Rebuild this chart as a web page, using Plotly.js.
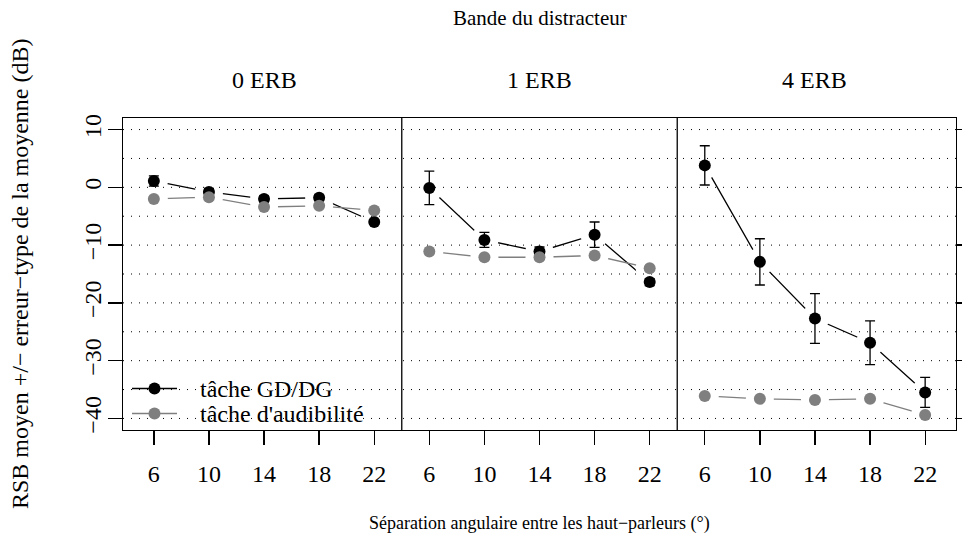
<!DOCTYPE html>
<html>
<head>
<meta charset="utf-8">
<script src="https://cdn.plot.ly/plotly-3.0.1.min.js"></script>
<style>html,body{margin:0;padding:0;background:#fff;}#chart{width:962px;height:548px;}</style>
</head>
<body>
<div id="chart"></div>
<script>
// ---- data ----
const SEPARATIONS = [6, 10, 14, 18, 22];
const BANDS = ['0 ERB', '1 ERB', '4 ERB'];
const GDDG_0 = [1.1, -0.8, -2.0, -1.8, -6.0];
const GDDG_1 = [-0.1, -9.1, -11.1, -8.2, -16.4];
const GDDG_4 = [3.8, -12.9, -22.7, -26.9, -35.5];
const GDDG_ERR_0 = [0.9, 0.6, 0.5, 0.5, 0.4];
const GDDG_ERR_1 = [2.9, 1.3, 0.8, 2.2, 0.6];
const GDDG_ERR_4 = [3.4, 4.0, 4.3, 3.8, 2.6];
const AUDIB_0 = [-2.0, -1.7, -3.4, -3.2, -4.0];
const AUDIB_1 = [-11.1, -12.1, -12.1, -11.8, -14.0];
const AUDIB_4 = [-36.1, -36.6, -36.8, -36.6, -39.4];
const Y_TICKS = [10, 0, -10, -20, -30, -40];
const Y_TICK_TEXT = ['10', '0', '\u221210', '\u221220', '\u221230', '\u221240'];
const GRID_Y = [10, 5, 0, -5, -10, -15, -20, -25, -30, -35, -40];
const SERIES_NAMES = ['tâche GD/DG', "tâche d'audibilité"];

// ---- layout constants ----
const FONT = 'Liberation Serif';
const FS = 24;
const BLACK = '#000000';
const GREY = '#7f7f7f';
const COLORS = [BLACK, GREY];
const XR = [0.44, 15.56];
const YR = [-42, 12];
const M = {l: 123, r: 6, t: 118, b: 118};
const W = 962, H = 548;
const PW = W - M.l - M.r, PH = H - M.t - M.b;
const px2x = p => (p - M.l) / PW;
const px2y = p => (H - M.b - p) / PH;

const gddg = [GDDG_0, GDDG_1, GDDG_4];
const gddgErr = [GDDG_ERR_0, GDDG_ERR_1, GDDG_ERR_4];
const audib = [AUDIB_0, AUDIB_1, AUDIB_4];

// positions on the shared axis: one block of separations per band
function flatten(series) {
  const xs = [], ys = [];
  series.forEach((vals, b) => {
    vals.forEach((v, i) => { xs.push(b * SEPARATIONS.length + i + 1); ys.push(v); });
    if (b < series.length - 1) { xs.push(null); ys.push(null); }
  });
  return {x: xs, y: ys};
}
const G = flatten(gddg), GE = flatten(gddgErr), A = flatten(audib);

const tickvals = [], ticktext = [];
BANDS.forEach((_, b) => SEPARATIONS.forEach((s, i) => { tickvals.push(b * SEPARATIONS.length + i + 1); ticktext.push(String(s)); }));

const gridX = [], gridY = [];
GRID_Y.forEach(g => { gridX.push(XR[0], XR[1], null); gridY.push(g, g, null); });

const MS = 12;
const traces = [
  {x: G.x, y: G.y, mode: 'lines', name: SERIES_NAMES[0], connectgaps: false, showlegend: false,
   line: {color: BLACK, width: 1.3}, hoverinfo: 'skip'},
  {x: A.x, y: A.y, mode: 'lines', name: SERIES_NAMES[1], connectgaps: false, showlegend: false,
   line: {color: GREY, width: 1.3}, hoverinfo: 'skip'},
  // white discs: the gaps that the "b" plot type leaves around each point
  {x: G.x.concat(A.x), y: G.y.concat(A.y), mode: 'markers', showlegend: false,
   marker: {color: '#ffffff', size: 28, line: {width: 0}}, hoverinfo: 'skip'},
  // dotted horizontal grid
  {x: gridX, y: gridY, mode: 'lines', showlegend: false,
   line: {color: BLACK, width: 1, dash: '1px,7px'}, hoverinfo: 'skip'},
  {x: G.x, y: G.y, mode: 'markers', name: SERIES_NAMES[0], showlegend: false,
   marker: {color: BLACK, size: MS},
   error_y: {type: 'data', array: GE.y, color: BLACK, thickness: 1.3, width: 5}},
  {x: A.x, y: A.y, mode: 'markers', name: SERIES_NAMES[1], showlegend: false,
   marker: {color: GREY, size: MS}}
];

const tf = {family: FONT, size: FS, color: BLACK};
const annotations = [
  {text: 'Bande du distracteur', x: (XR[0] + XR[1]) / 2, xref: 'x', y: px2y(18), yref: 'paper',
   showarrow: false, font: {family: FONT, size: 21, color: BLACK}, xanchor: 'center', yanchor: 'middle'},
  {text: 'Séparation angulaire entre les haut\u2212parleurs (°)', x: (XR[0] + XR[1]) / 2, xref: 'x', y: px2y(523), yref: 'paper',
   showarrow: false, font: {family: FONT, size: 18, color: BLACK}, xanchor: 'center', yanchor: 'middle'},
  {text: 'RSB moyen +/\u2212 erreur\u2212type de la moyenne (dB)', x: px2x(20), xref: 'paper', y: 0.5, yref: 'paper',
   textangle: -90, showarrow: false, font: tf, xanchor: 'center', yanchor: 'middle'}
];
BANDS.forEach((b, i) => annotations.push({
  text: b, x: i * SEPARATIONS.length + (SEPARATIONS.length + 1) / 2, xref: 'x', y: px2y(80), yref: 'paper',
  showarrow: false, font: tf, xanchor: 'center', yanchor: 'middle'}));

const shapes = [];
for (let b = 1; b < BANDS.length; b++) {
  shapes.push({type: 'line', xref: 'x', yref: 'paper', x0: b * SEPARATIONS.length + 0.5, x1: b * SEPARATIONS.length + 0.5,
    y0: 0, y1: 1, layer: 'above', line: {color: BLACK, width: 1.3}});
}

// legend (R style, no box): key line with point, then label
const LEG_ROWS = [388.5, 413.5];
SERIES_NAMES.forEach((name, k) => {
  const yy = px2y(LEG_ROWS[k]);
  shapes.push({type: 'line', xref: 'paper', yref: 'paper', x0: px2x(132), x1: px2x(177), y0: yy, y1: yy,
    line: {color: COLORS[k], width: 1.3}});
  shapes.push({type: 'circle', xref: 'paper', yref: 'paper', xsizemode: 'pixel', ysizemode: 'pixel',
    xanchor: px2x(154.5), yanchor: yy, x0: -MS / 2, x1: MS / 2, y0: -MS / 2, y1: MS / 2,
    fillcolor: COLORS[k], line: {width: 0}});
  annotations.push({text: name, xref: 'paper', yref: 'paper', x: px2x(198), y: yy,
    xanchor: 'left', yanchor: 'middle', showarrow: false, font: tf});
});

const layout = {
  width: W, height: H,
  margin: M,
  paper_bgcolor: '#ffffff', plot_bgcolor: '#ffffff',
  font: tf,
  showlegend: false,
  xaxis: {range: XR, showgrid: false, zeroline: false, showline: true, linecolor: BLACK, linewidth: 1.3,
    mirror: true, ticks: 'outside', ticklen: 14, tickwidth: 1.3, tickcolor: BLACK,
    tickvals: tickvals, ticktext: ticktext, ticklabelstandoff: 8, tickfont: tf},
  yaxis: {range: YR, showgrid: false, zeroline: false, showline: true, linecolor: BLACK, linewidth: 1.3,
    mirror: 'ticks', ticks: 'outside', ticklen: 14, tickwidth: 1.3, tickcolor: BLACK,
    tickvals: Y_TICKS, ticktext: Y_TICK_TEXT, tickangle: -90, ticklabelstandoff: -3, tickfont: tf},
  annotations: annotations,
  shapes: shapes
};

Plotly.newPlot('chart', traces, layout, {displayModeBar: false, staticPlot: true});
</script>
</body>
</html>
